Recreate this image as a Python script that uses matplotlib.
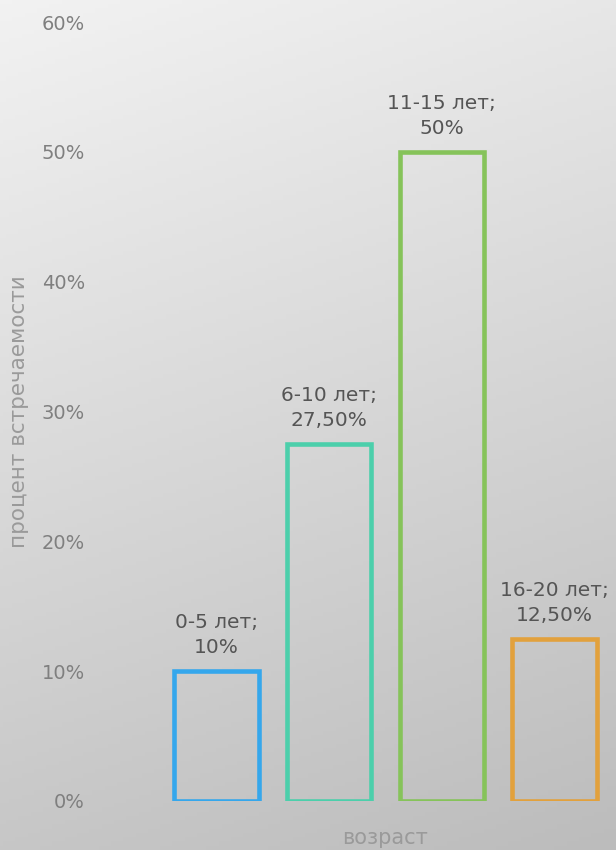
import numpy as np
import matplotlib.pyplot as plt
from matplotlib.colors import LinearSegmentedColormap

# data
categories = ['0-5 лет', '6-10 лет', '11-15 лет', '16-20 лет']
values = [10, 27.5, 50, 12.5]
value_labels = ['10%', '27,50%', '50%', '12,50%']
colors = ['#35a7ec', '#4ccfab', '#86c35a', '#e2a13d']
yticks = [0, 10, 20, 30, 40, 50, 60]

fig = plt.figure(figsize=(6.16, 8.5), dpi=100)

# gradient background (light top, darker bottom)
bg = fig.add_axes([0, 0, 1, 1], zorder=-2)
gx, gy = np.meshgrid(np.linspace(0, 1, 200), np.linspace(0, 1, 200))
grad = 0.2 * gx + 0.8 * gy
cmap = LinearSegmentedColormap.from_list('bg', ['#f2f2f2', '#bcbcbc'])
bg.imshow(grad, cmap=cmap, aspect='auto', extent=[0, 1, 0, 1], origin='upper')
bg.axis('off')

ax = fig.add_axes([160 / 616, 49 / 850, 451 / 616, 779 / 850])
ax.patch.set_alpha(0)
x = np.arange(len(categories))
bars = ax.bar(x, values, width=0.75, facecolor='none', edgecolor=colors, linewidth=3.3)

for xi, v, cat, lab in zip(x, values, categories, value_labels):
    ax.annotate(f'{cat};\n{lab}', (xi, v), xytext=(0, 10), textcoords='offset points',
                ha='center', va='bottom', fontsize=14.5, color='#555555', linespacing=1.4)

ax.set_xlim(-0.5, 3.5)
ax.set_ylim(0, 60)
ax.set_yticks(yticks)
ax.set_yticklabels([f'{t}%' for t in yticks], fontsize=14, color='#7f7f7f')
ax.tick_params(axis='y', length=0, pad=54)
ax.set_xticks([])
for s in ax.spines.values():
    s.set_visible(False)

ax.set_ylabel('процент встречаемости', fontsize=15.5, color='#9a9a9a')
ax.set_xlabel('возраст', fontsize=15, color='#9a9a9a')
ax.yaxis.set_label_coords(-0.29, 0.5)
ax.xaxis.set_label_coords(0.5, -0.035)

plt.savefig('out.png', dpi=100)
